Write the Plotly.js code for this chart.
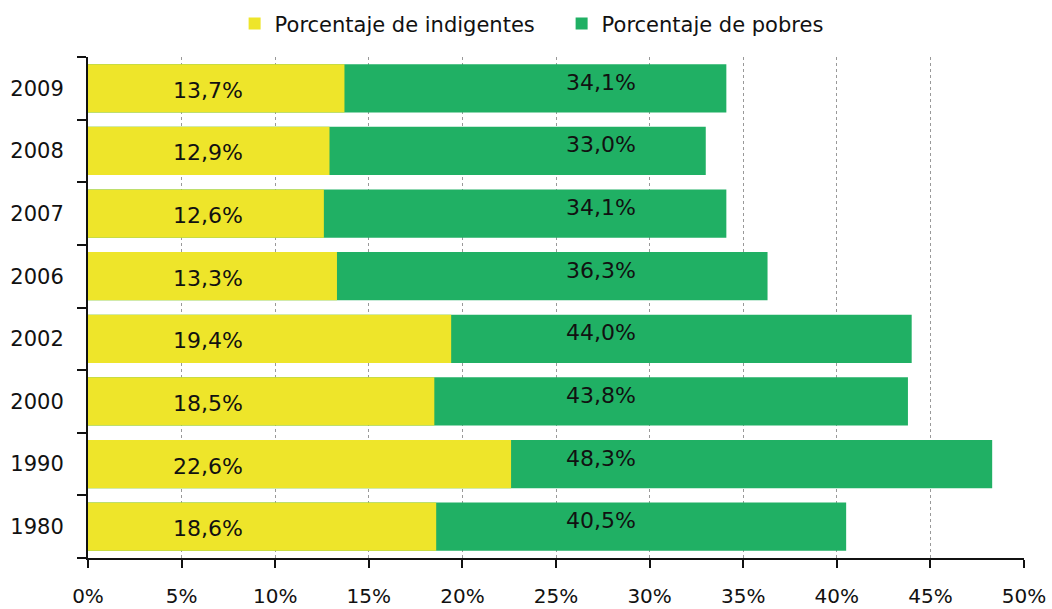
<!DOCTYPE html>
<html>
<head>
<meta charset="utf-8">
<script src="https://cdn.plot.ly/plotly-3.0.1.min.js"></script>
<style>html,body{margin:0;padding:0;background:#fff;}#chart{width:1052px;height:609px;}</style>
</head>
<body>
<div id="chart"></div>
<script>
// Data (bottom to top)
var years = ['1980', '1990', '2000', '2002', '2006', '2007', '2008', '2009'];
var indigentes = [18.6, 22.6, 18.5, 19.4, 13.3, 12.6, 12.9, 13.7];
var pobres = [40.5, 48.3, 43.8, 44.0, 36.3, 34.1, 33.0, 34.1];
var xTickVals = [0, 5, 10, 15, 20, 25, 30, 35, 40, 45, 50];
var xTickText = ['0%', '5%', '10%', '15%', '20%', '25%', '30%', '35%', '40%', '45%', '50%'];
var seriesNames = ['Porcentaje de indigentes', 'Porcentaje de pobres'];

var yellow = '#EEE52A';
var green = '#20B064';
var fontFam = '"DejaVu Sans", Verdana, sans-serif';

function fmt(v) { return v.toFixed(1).replace('.', ',') + '%'; }

var traces = [
  {
    type: 'bar', orientation: 'h', name: seriesNames[1],
    y: years, x: pobres,
    marker: {color: green, line: {width: 0}},
    hoverinfo: 'none'
  },
  {
    type: 'bar', orientation: 'h', name: seriesNames[0],
    y: years, x: indigentes,
    marker: {color: yellow, line: {width: 0}},
    hoverinfo: 'none'
  }
];

// label columns (layout constants, in axis units)
var indLabelX = 6.4;
var pobLabelX = 27.4;
var annotations = [];
years.forEach(function (yr, i) {
  // y given as category index on the category axis
  annotations.push({x: indLabelX, y: i, xref: 'x', yref: 'y', text: fmt(indigentes[i]),
    showarrow: false, yshift: -2, font: {family: fontFam, size: 22, color: '#111'}});
  annotations.push({x: pobLabelX, y: i, xref: 'x', yref: 'y', text: fmt(pobres[i]),
    showarrow: false, yshift: 6, font: {family: fontFam, size: 22, color: '#111'}});
});

var layout = {
  width: 1052, height: 609,
  margin: {l: 88, r: 28, t: 57, b: 51, pad: 0, autoexpand: false},
  paper_bgcolor: '#fff', plot_bgcolor: '#fff',
  barmode: 'overlay',
  bargap: 0.23,
  font: {family: fontFam, size: 21, color: '#111'},
  showlegend: true,
  legend: {
    orientation: 'h', traceorder: 'reversed',
    x: 0.506, xanchor: 'center', y: 1.066, yanchor: 'middle',
    entrywidth: 282, entrywidthmode: 'pixels',
    font: {family: fontFam, size: 21, color: '#111'},
    itemclick: false, itemdoubleclick: false
  },
  xaxis: {
    range: [0, 50], tickvals: xTickVals, ticktext: xTickText,
    showgrid: true, gridcolor: '#999', griddash: 'dot', gridwidth: 1,
    zeroline: false,
    showline: true, linecolor: '#111', linewidth: 2,
    ticks: 'outside', ticklen: 8, tickwidth: 2, tickcolor: '#111',
    ticklabelstandoff: 11,
    tickfont: {family: fontFam, size: 20, color: '#111'},
    fixedrange: true
  },
  yaxis: {
    type: 'category', categoryorder: 'array', categoryarray: years,
    range: [-0.5, years.length - 0.5], autorange: false,
    showgrid: false, zeroline: false,
    showline: true, linecolor: '#111', linewidth: 2,
    ticks: 'outside', tickson: 'boundaries', ticklen: 9, tickwidth: 2, tickcolor: '#111',
    ticklabelstandoff: 18,
    tickfont: {family: fontFam, size: 21, color: '#111'},
    fixedrange: true
  },
  annotations: annotations
};

Plotly.newPlot('chart', traces, layout, {displayModeBar: false, staticPlot: true});
</script>
</body>
</html>
